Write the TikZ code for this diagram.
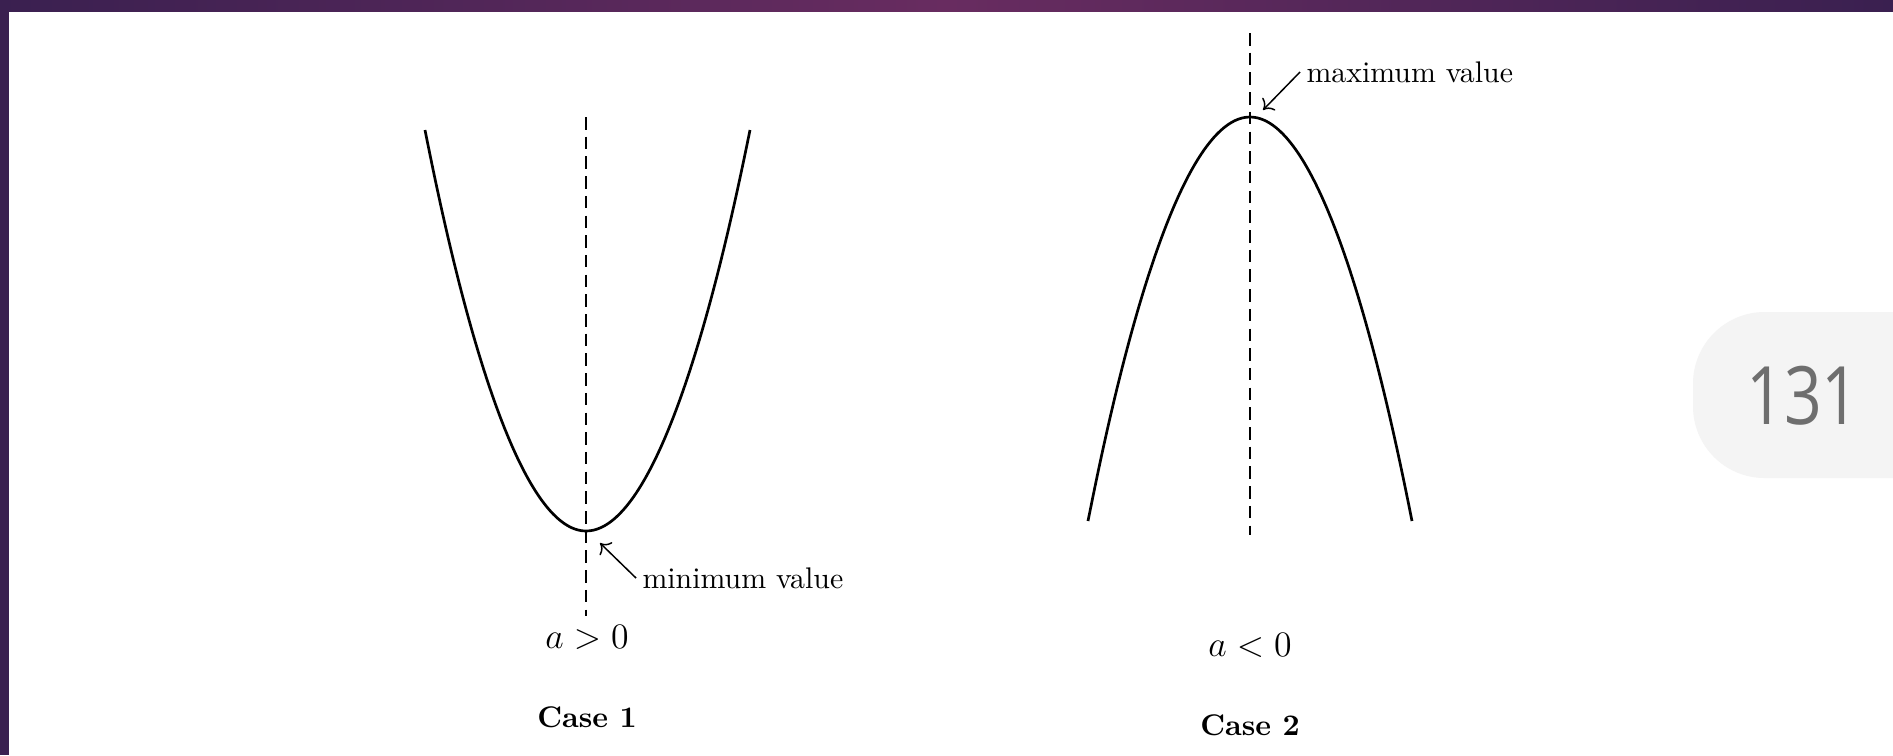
\documentclass[tikz,border=0pt]{standalone}
\usepackage{fontspec}
\usepackage{xcolor}
\usetikzlibrary{positioning, arrows.meta}
\newfontfamily\badgefont{Open Sans}
\definecolor{frameedge}{RGB}{58,32,80}
\definecolor{framemid}{RGB}{104,44,96}
\definecolor{badgegray}{RGB}{244,244,244}
\definecolor{digitgray}{RGB}{110,110,110}

\begin{document}
\begin{tikzpicture}[x=0.335pt, y=-0.335pt, >={To[length=3pt, width=6pt]}, node distance=27pt, on grid,
        curve/.style={line width=0.9pt},
        axis/.style={line width=0.8pt, dash pattern=on 4.2pt off 2.4pt},
        pointer/.style={->, line width=0.5pt},
        note/.style={inner sep=2pt},
        cond/.style={font=\large},
        casename/.style={font=\bfseries}]
    \useasboundingbox (0,0) rectangle (1893,755);
    \fill[white] (0,0) rectangle (1893,755);
    % frame
    \shade[left color=frameedge, right color=frameedge, middle color=framemid] (0,0) rectangle (1893,11);
    \fill[frameedge] (0,0) rectangle (9,755);
    % page badge
    \begin{scope}
        \clip (0,0) rectangle (1893,755);
        \fill[badgegray, rounded corners=24pt] (1693,312) rectangle (2000,478);
    \end{scope}
    \node[text=digitgray, font=\badgefont\fontsize{27}{27}\selectfont, xscale=0.82, transform shape] (page) at (1803,396) {131};

    % case 1
    \coordinate (low) at (586,531);
    \draw[curve] (425,130) parabola bend (low) (750,130);
    \draw[axis] (586,117) -- (586,616);
    \node[note, anchor=west] (minnote) at (636,578) {minimum value};
    \coordinate (mintip) at (600,543);
    \draw[pointer] (minnote.west) -- (mintip);
    \node[cond] (cond1) at (587,637) {$a>0$};
    \node[casename, below=of cond1] (case1) {Case 1};

    % case 2
    \coordinate (high) at (1250,117);
    \draw[curve] (1088,521) parabola bend (high) (1412,521);
    \draw[axis] (1250,33) -- (1250,535);
    \node[note, anchor=west] (maxnote) at (1300,72) {maximum value};
    \coordinate (maxtip) at (1263,110);
    \draw[pointer] (maxnote.west) -- (maxtip);
    \node[cond] (cond2) at (1250,645) {$a<0$};
    \node[casename, below=of cond2] (case2) {Case 2};
\end{tikzpicture}
\end{document}
